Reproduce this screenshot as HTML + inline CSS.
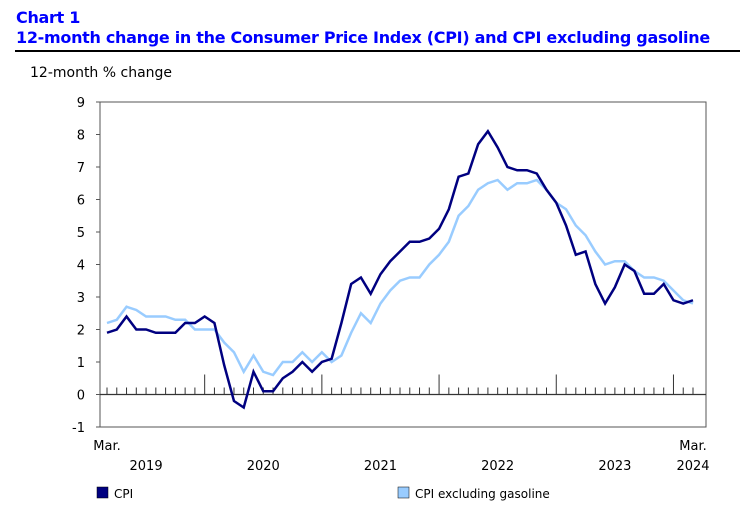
<!DOCTYPE html>
<html><head><meta charset="utf-8"><style>
body{margin:0;width:740px;height:507px;background:#fff;font-family:"DejaVu Sans",Verdana,sans-serif;overflow:hidden}
.t{position:absolute;left:16px;color:#0000ff;font-weight:bold;font-size:16px;line-height:19px;font-family:"DejaVu Sans",sans-serif;letter-spacing:-0.3px}
</style></head><body>
<div class="t" style="top:8px">Chart 1</div>
<div class="t" style="top:28px">12-month change in the Consumer Price Index (CPI) and CPI excluding gasoline</div>
<div style="position:absolute;left:15px;top:50px;width:725px;height:2px;background:#000"></div>
<svg id="c" width="740" height="507" style="position:absolute;left:0;top:0;font-family:'DejaVu Sans',sans-serif"></svg>
<script>
const cpi=[1.9,2.0,2.4,2.0,2.0,1.9,1.9,1.9,2.2,2.2,
2.4,2.2,0.9,-0.2,-0.4,0.7,0.1,0.1,0.5,0.7,1.0,0.7,
1.0,1.1,2.2,3.4,3.6,3.1,3.7,4.1,4.4,4.7,4.7,4.8,
5.1,5.7,6.7,6.8,7.7,8.1,7.6,7.0,6.9,6.9,6.8,6.3,
5.9,5.2,4.3,4.4,3.4,2.8,3.3,4.0,3.8,3.1,3.1,3.4,
2.9,2.8,2.9];
const exGas=[2.2,2.3,2.7,2.6,2.4,2.4,2.4,2.3,2.3,2.0,
2.0,2.0,1.6,1.3,0.7,1.2,0.7,0.6,1.0,1.0,1.3,1.0,
1.3,1.0,1.2,1.9,2.5,2.2,2.8,3.2,3.5,3.6,3.6,4.0,
4.3,4.7,5.5,5.8,6.3,6.5,6.6,6.3,6.5,6.5,6.6,6.3,
5.9,5.7,5.2,4.9,4.4,4.0,4.1,4.1,3.8,3.6,3.6,3.5,
3.2,2.9,2.8];
const yTicks=[-1,0,1,2,3,4,5,6,7,8,9];
const years=["2019","2020","2021","2022","2023","2024"];
const NS="http://www.w3.org/2000/svg",svg=document.getElementById('c');
const x0=100,x1=706,yTop=102,yBot=427;
const X=i=>107+i*(693-107)/60;
const Y=v=>yBot-(v+1)*(yBot-yTop)/10;
function mk(t,a,p){const e=document.createElementNS(NS,t);for(const k in a)e.setAttribute(k,a[k]);(p||svg).appendChild(e);return e;}
let e;
e=mk('rect',{x:x0,y:yTop,width:x1-x0,height:yBot-yTop,fill:'none',stroke:'#555','stroke-width':1});


yTicks.forEach(v=>{
 e=mk('text',{x:85,y:Y(v)+5,'text-anchor':'end','font-size':13,fill:'#000'});e.textContent=v;
 
 
 e=mk('line',{x1:x0-4,x2:x0,y1:Y(v),y2:Y(v),stroke:'#555'});
 
 
});
e=mk('line',{x1:x0,x2:x1,y1:Y(0),y2:Y(0),stroke:'#333','stroke-width':1.3});


for(let i=0;i<cpi.length;i++){
 const big=(i-10)%12===0;
 e=mk('line',{x1:X(i),x2:X(i),y1:Y(0),y2:Y(0)-(big?20:7),stroke:'#333','stroke-width':1});
 
 
}
years.forEach((yr,k)=>{
 let cx;
 if(k===0)cx=X(4);else if(k===5)cx=X(60);else cx=X(10+(k-1)*12+6);
 e=mk('text',{x:cx,y:470,'text-anchor':'middle','font-size':13});e.textContent=yr;
 
 
});
[[X(0),'Mar.'],[X(60),'Mar.']].forEach(([x,t])=>{
 e=mk('text',{x:x,y:450,'text-anchor':'middle','font-size':13});e.textContent=t;
 
 
});
e=mk('text',{x:30,y:77,'font-size':14});e.textContent='12-month % change';


function line(d,col,name){
 e=mk('polyline',{points:d.map((v,i)=>X(i)+','+Y(v)).join(' '),fill:'none',stroke:col,'stroke-width':2.5,'stroke-linejoin':'miter'});
 
 
}
line(exGas,'#99ccff','series-cpi-ex-gasoline');
line(cpi,'#000080','series-cpi');
[[97,'#000080','CPI','legend-cpi'],[398,'#99ccff','CPI excluding gasoline','legend-cpi-ex-gasoline']].forEach(([x,c,t,n])=>{
 const g=mk('g',{});
 
 
 mk('rect',{x:x,y:487,width:11,height:11,fill:c,stroke:'#000','stroke-width':0.5},g);
 const tt=mk('text',{x:x+17,y:498,'font-size':12},g);tt.textContent=t;
});
</script>
</body></html>
